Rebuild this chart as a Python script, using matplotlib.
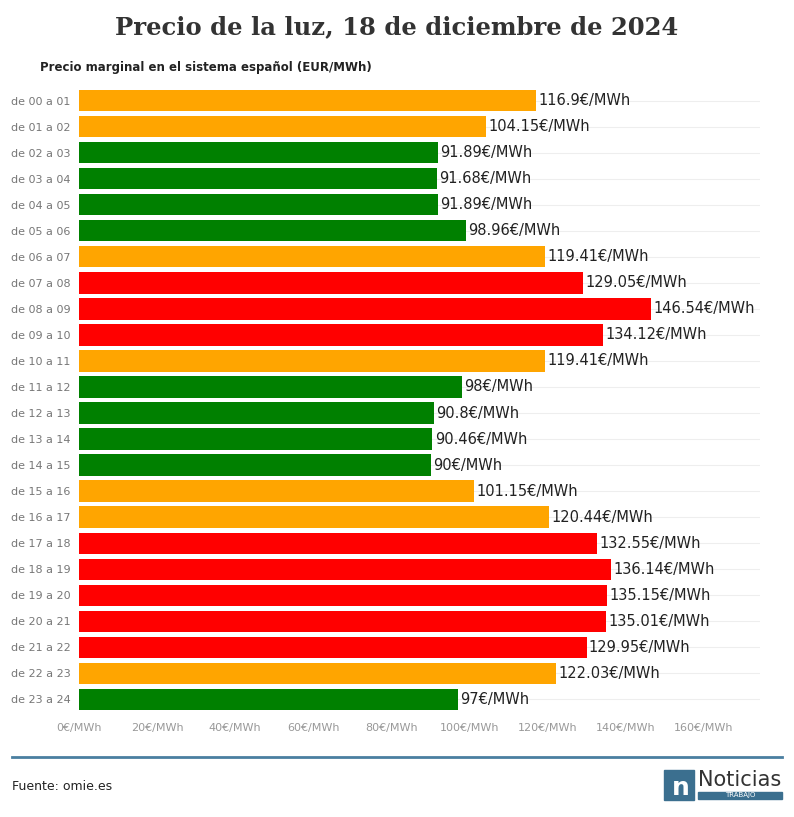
import numpy as np
import matplotlib.pyplot as plt
from matplotlib.patches import Rectangle

hours = ["de %02d a %02d" % (h, h + 1) for h in range(24)]
prices = [116.9, 104.15, 91.89, 91.68, 91.89, 98.96, 119.41, 129.05, 146.54, 134.12,
          119.41, 98, 90.8, 90.46, 90, 101.15, 120.44, 132.55, 136.14, 135.15,
          135.01, 129.95, 122.03, 97]
labels = ["116.9", "104.15", "91.89", "91.68", "91.89", "98.96", "119.41", "129.05",
          "146.54", "134.12", "119.41", "98", "90.8", "90.46", "90", "101.15", "120.44",
          "132.55", "136.14", "135.15", "135.01", "129.95", "122.03", "97"]
xticks = [0, 20, 40, 60, 80, 100, 120, 140, 160]

def color(p):
    if p < 100:
        return "#008000"
    if p < 125:
        return "#FFA500"
    return "#FF0000"

W, H = 794, 817
fig = plt.figure(figsize=(W / 100, H / 100), dpi=100)
ax = fig.add_axes([79 / W, 1 - 715 / H, (760 - 79) / W, (715 - 85) / H])
y = np.arange(24)
ax.barh(y, prices, height=0.82, color=[color(p) for p in prices], zorder=2)
for yi, p, l in zip(y, prices, labels):
    ax.text(p + 0.6, yi, l + "€/MWh", va="center", ha="left", fontsize=10.5, color="#222222")
ax.set_ylim(23.6, -0.6)
ax.set_xlim(0, (760 - 79) / 3.906)
ax.set_yticks(y)
ax.set_yticklabels(hours, fontsize=8, color="#777777")
ax.set_xticks(xticks)
ax.set_xticklabels(["%d€/MWh" % v for v in xticks], fontsize=8, color="#999999")
ax.tick_params(length=0, pad=6)
for yi in y:
    ax.axhline(yi, color="#eeeeee", lw=0.8, zorder=0)
for s in ax.spines.values():
    s.set_visible(False)

fig.text(0.5, 1 - 27 / H, "Precio de la luz, 18 de diciembre de 2024", ha="center", va="center",
         fontsize=17.5, fontweight="bold", family="DejaVu Serif", color="#333333")
fig.text(40 / W, 1 - 68 / H, "Precio marginal en el sistema español (EUR/MWh)", ha="left",
         va="center", fontsize=8.5, fontweight="bold", color="#222222")
fig.add_artist(plt.Line2D([12 / W, 782 / W], [1 - 757 / H] * 2, color="#4a7fa0", lw=2))
fig.text(12 / W, 1 - 787 / H, "Fuente: omie.es", ha="left", va="center", fontsize=9, color="#222222")
fig.add_artist(Rectangle((664 / W, 1 - 800 / H), 30 / W, 30 / H, color="#3b6f8f", transform=fig.transFigure))
fig.text(672 / W, 1 - 788 / H, "n", fontsize=18, color="white", fontweight="bold", ha="left", va="center")
fig.text(698 / W, 1 - 780 / H, "Noticias", fontsize=15, color="#333333", ha="left", va="center")
fig.add_artist(Rectangle((698 / W, 1 - 799 / H), 84 / W, 7 / H, color="#3b6f8f", transform=fig.transFigure))
fig.text(740 / W, 1 - 795.5 / H, "TRABAJO", fontsize=5, color="white", ha="center", va="center")
fig.savefig("out.png", dpi=100)
